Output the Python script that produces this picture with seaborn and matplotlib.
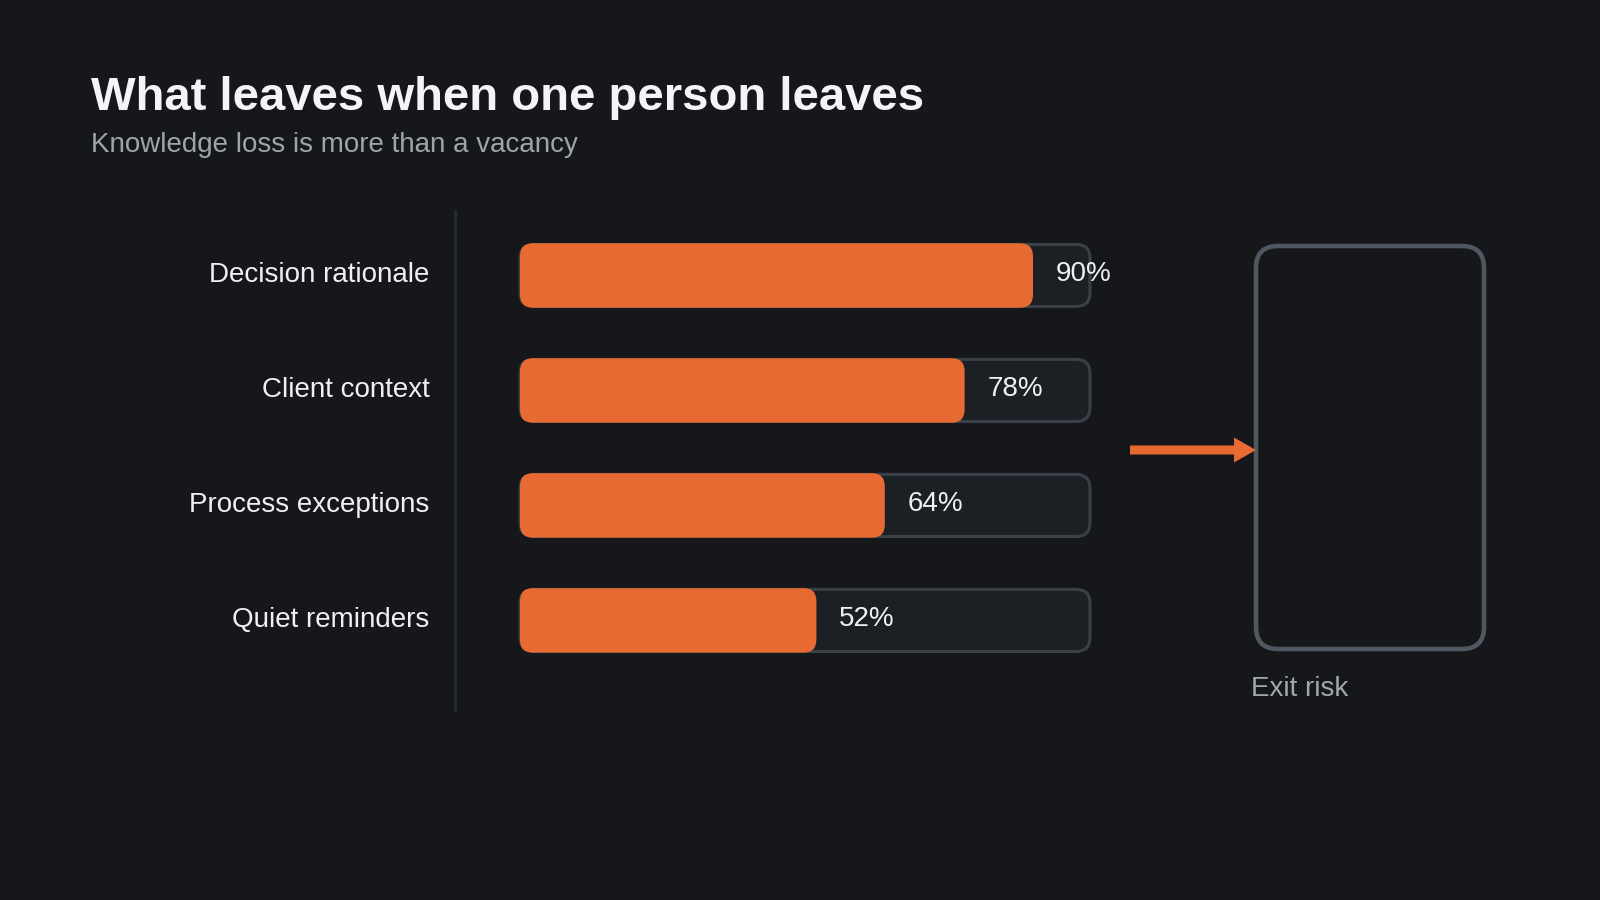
import numpy as np
import pandas as pd
import matplotlib
matplotlib.use("Agg")
import matplotlib.pyplot as plt
import seaborn as sns
from matplotlib.patches import FancyBboxPatch, FancyArrow
from matplotlib.lines import Line2D
from matplotlib.transforms import ScaledTranslation

# data
categories = ["Decision rationale", "Client context", "Process exceptions", "Quiet reminders"]
shares = [90, 78, 64, 52]
track = [100, 100, 100, 100]

BG = "#16171b"
ORANGE = "#e86a33"
TRACK_FC = "#1c1f24"
TRACK_EC = "#3a4048"

sns.set_theme(style="dark")
plt.rcParams["font.family"] = ["Liberation Sans", "DejaVu Sans"]
plt.rcParams["figure.facecolor"] = BG
plt.rcParams["axes.facecolor"] = BG

df = pd.DataFrame({"category": categories, "share": shares, "track": track})

fig = plt.figure(figsize=(16, 9), dpi=100)
W, H = 1600, 900

# bar axes placed in pixel space
left, right, top, bottom = 520, 1090, 211, 710
ax = fig.add_axes([left / W, 1 - bottom / H, (right - left) / W, (bottom - top) / H])
ax.set_facecolor("none")

sns.barplot(data=df, x="track", y="category", orient="h", color=TRACK_FC, width=0.54, ax=ax)
n_track = len(ax.patches)
sns.barplot(data=df, x="share", y="category", orient="h", color=ORANGE, width=0.54, ax=ax)

row_px = 115.0
first_center = 275.5
ax.set_xlim(0, 100)
ax.set_ylim(3 + (bottom - 620.4) / row_px, -(first_center - top) / row_px)

# turn bars into rounded bars
px_x = (right - left) / 100.0
px_y = (bottom - top) / abs(ax.get_ylim()[0] - ax.get_ylim()[1])
aspect = px_x / px_y
for i, p in enumerate(list(ax.patches)):
    x, y, w, h = p.get_x(), p.get_y(), p.get_width(), p.get_height()
    p.remove()
    is_track = i < n_track
    r = (14 if is_track else 13) / px_x
    pad = 0 if is_track else 1.2 / px_x
    rp = FancyBboxPatch((x + pad, y), w - 2 * pad, h,
                        boxstyle=f"round,pad={pad},rounding_size={r}",
                        mutation_aspect=aspect,
                        fc=TRACK_FC if is_track else ORANGE,
                        ec=TRACK_EC if is_track else "none",
                        lw=2.2 if is_track else 0,
                        zorder=2 if is_track else 3, clip_on=False)
    ax.add_patch(rp)

for i, v in enumerate(shares):
    ax.annotate(f"{v}%", xy=(v, i), xytext=(16.5, 1), textcoords="offset points",
                ha="left", va="center", fontsize=20, color="#eef0f2", zorder=4)

ax.set_xlabel("")
ax.set_ylabel("")
ax.set_xticks([])
ax.tick_params(axis="y", length=0, pad=65, labelsize=20, labelcolor="#eef0f2")
shift = ScaledTranslation(0, 3 / 100, fig.dpi_scale_trans)
for lab in ax.get_yticklabels():
    lab.set_transform(lab.get_transform() + shift)
for s in ax.spines.values():
    s.set_visible(False)
ax.grid(False)

# overlay in pixel coordinates for decorations
ov = fig.add_axes([0, 0, 1, 1], zorder=-1)
ov.set_xlim(0, W)
ov.set_ylim(H, 0)
ov.axis("off")
ov.patch.set_visible(False)

ov.add_line(Line2D([455, 455], [211, 710], color="#272b31", lw=2.2))

ov.add_patch(FancyBboxPatch((1256, 246), 228, 403,
                            boxstyle="round,pad=0,rounding_size=22",
                            fc=BG, ec="#4f5761", lw=3.3))
ov.add_patch(FancyArrow(1130, 450, 126, 0, width=9, head_width=25, head_length=22,
                        length_includes_head=True, color=ORANGE, lw=0))
ov.text(1251, 689, "Exit risk", fontsize=20, color="#a0a6ad", ha="left", va="center")

fig.text(91 / W, 1 - 110 / H, "What leaves when one person leaves", fontsize=34,
         fontweight="bold", color="#f3f4f6", ha="left", va="baseline")
fig.text(91 / W, 1 - 152 / H, "Knowledge loss is more than a vacancy", fontsize=20,
         color="#9ea4ab", ha="left", va="baseline")

fig.savefig("out.png", dpi=100, facecolor=BG)
